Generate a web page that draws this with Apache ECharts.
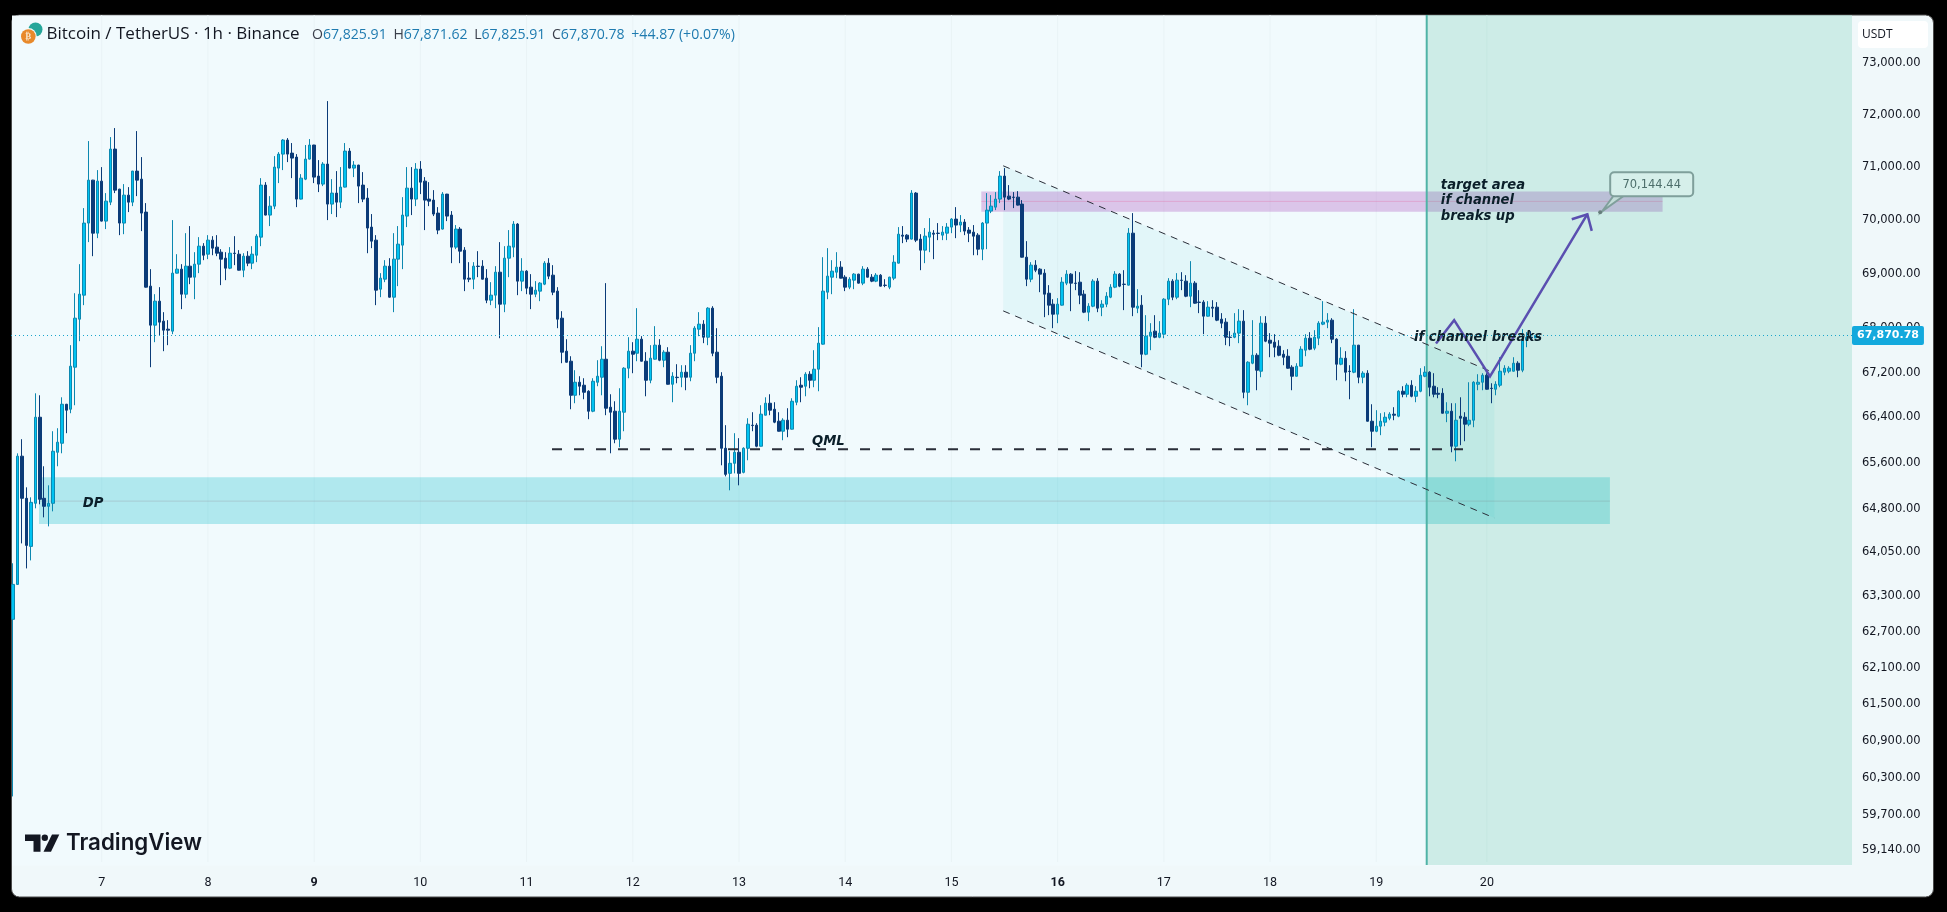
<!DOCTYPE html>
<html>
<head>
<meta charset="utf-8">
<title>BTCUSDT 1h</title>
<style>
  html, body { margin: 0; padding: 0; background: #000; }
  #chart { width: 1947px; height: 912px; }
</style>
<script src="https://cdn.jsdelivr.net/npm/echarts@6/dist/echarts.min.js"></script>
</head>
<body>
<div id="chart"></div>
<script>
// hourly candles
const opens = [
  62910,63500,65715,64979,64149,64892,66403,64979,64840,64892,
  65784,65943,66634,66545,67297,68167,68606,69941,70749,69753,
  70730,69978,70334,71339,70579,69941,70466,70334,70920,70768,
  70147,68772,68058,68496,68131,67985,67949,69011,69085,68624,
  69140,68937,69177,69511,69362,69623,69493,69399,69288,69103,
  69380,69362,69066,69325,69196,69343,69679,70655,70091,70259,
  70977,71243,71511,71262,71186,70391,70768,71148,71416,70825,
  70674,71053,70297,70504,70334,70617,71300,70977,71034,70655,
  70410,69866,69623,68716,68900,69140,68569,69270,69530,70072,
  70598,70391,70958,70730,70391,70372,70128,69829,70485,70091,
  69493,69829,69437,68919,68900,69140,69140,68919,68514,68606,
  69029,68441,69288,69493,69922,68864,69048,68753,68624,68680,
  68808,69196,68974,68680,68185,67586,67405,66794,67027,66974,
  66866,66510,67027,67117,67441,66581,66510,66014,66492,67279,
  67586,67549,67803,67405,67063,67441,67695,67423,67568,66991,
  67117,67117,67207,67117,67549,67985,68076,67839,68368,67568,
  67135,65854,65414,65590,65784,65431,65854,66262,66262,65890,
  66439,66652,66545,66332,66155,66350,66191,66670,66974,66956,
  67171,67063,67261,67713,68661,68937,69029,69122,68937,68753,
  68882,68993,68827,69085,68937,68864,68974,68790,68753,68919,
  69196,69716,69716,69642,70504,69642,69437,69679,69753,69753,
  69716,69753,69866,70016,69904,69960,69810,69772,69716,69455,
  69941,70166,70240,70391,70825,70447,70428,70428,70297,69306,
  68900,69159,69085,69011,68642,68441,68258,68423,68827,68993,
  68827,68845,68624,68295,68404,68864,68386,68441,68569,68753,
  68993,68808,68790,69753,68368,68423,67531,67858,67949,67839,
  67894,68532,68864,68569,68882,68864,68587,68827,68478,68478,
  68222,68386,68386,68167,68113,67839,67839,67913,68131,66848,
  67369,67513,67225,68094,67785,67749,67676,67531,67495,67297,
  67135,67315,67604,67821,67640,67821,68076,68113,68149,67803,
  67351,67459,67225,67207,67695,67117,67189,66332,66155,66244,
  66315,66385,66457,66421,66866,66812,66974,66776,66866,67135,
  67207,66956,66830,66830,66474,66510,65890,66421,66403,66279,
  66350,66991,67027,67153,66920,66902,66974,67207,67225,67225,
  67369,67243,67785,67839,67825.91
];
const closes = [
  63500,65715,64979,64166,64909,66403,64962,64840,64892,65802,
  65961,66634,66528,67315,68185,68624,69941,70749,69753,70730,
  69978,70353,71339,70560,69941,70466,70334,70920,70749,70128,
  68753,68058,68496,68113,67967,67967,69011,69085,68624,69140,
  68937,69177,69511,69343,69623,69474,69380,69270,69103,69380,
  69375,69066,69325,69196,69362,69697,70655,70091,70259,70996,
  71243,71511,71243,71167,70391,70787,71148,71416,70806,70674,
  71053,70297,70504,70334,70617,71300,70977,71034,70636,70391,
  69848,69604,68698,68919,69140,68569,69270,69548,70091,70598,
  70391,70958,70711,70372,70353,70110,69810,70485,70072,69493,
  69829,69418,68900,68900,69140,69135,68900,68514,68606,69029,
  68441,69288,69511,69922,68864,69048,68735,68624,68698,68827,
  69196,68956,68661,68167,67568,67387,66794,67027,66956,66848,
  66510,67045,67135,67441,66563,66492,66014,66510,67279,67586,
  67531,67803,67405,67063,67459,67695,67423,67568,66991,67135,
  67110,67207,67117,67549,68003,68076,67839,68368,67549,67117,
  65854,65396,65590,65784,65414,65854,66279,66255,65890,66457,
  66652,66528,66315,66155,66350,66191,66687,66956,66938,67171,
  67063,67261,67731,68680,68956,69048,69122,68919,68753,68900,
  68993,68827,69085,68937,68864,68974,68772,68785,68937,69214,
  69734,69697,69642,70504,69623,69437,69697,69772,69734,69748,
  69772,69866,70016,69904,69960,69791,69753,69697,69455,69941,
  70184,70259,70391,70825,70428,70391,70423,70278,69306,68900,
  69159,69066,68993,68624,68423,68258,68441,68845,68993,68827,
  68822,68606,68295,68404,68864,68368,68441,68587,68753,68993,
  68772,68803,69753,68386,68404,67531,67858,67931,67839,67913,
  68532,68864,68569,68882,68877,68587,68827,68459,68473,68222,
  68386,68368,68149,68094,67839,67835,67913,68131,66848,67387,
  67513,67243,68094,67767,67731,67658,67513,67477,67279,67135,
  67315,67622,67821,67622,67839,68094,68113,68149,67803,67351,
  67459,67207,67220,67695,67117,67189,66332,66155,66244,66332,
  66403,66457,66439,66866,66812,66974,66776,66866,67153,67207,
  66938,66812,66812,66474,66510,65890,66350,66385,66279,66350,
  67027,67027,67153,66902,66915,66991,67225,67279,67279,67369,
  67243,67785,67839,67826,67870.78
];
const lows = [
  60000,63490,64200,63772,63909,64805,64875,64649,64493,64753,
  65538,65766,66120,66474,66616,67767,68423,69586,69325,69660,
  69970,69829,70278,70504,69716,69734,70147,70259,70447,69791,
  68745,67297,67749,67876,67586,67695,67894,69005,68350,68551,
  68808,68532,69011,69251,69270,69343,69325,68790,68882,69085,
  69159,69060,68937,69140,69085,69214,69511,70085,69885,70203,
  70693,70939,71091,70787,70240,70385,70749,71140,70693,70523,
  70636,69997,70110,70053,70222,70610,70970,70806,70316,70334,
  69380,69474,68423,68569,68845,68560,68295,68772,69085,69866,
  70091,70259,70485,69810,70259,70072,69734,69820,69978,69196,
  69455,69196,68680,68845,68716,68937,68895,68459,68423,68368,
  67821,68295,68937,69306,68606,68680,68624,68350,68569,68496,
  68790,68900,68606,68003,67369,67380,66545,66652,66794,66723,
  66368,66492,66956,66794,66439,65766,65943,65872,66155,67099,
  67189,67405,67400,66776,67009,67435,67405,67297,66985,66670,
  67009,66938,66884,67045,67405,67858,67731,67695,67495,67009,
  65555,65361,65118,65414,65205,65414,65643,66155,65872,65885,
  66435,66439,66297,66150,65996,66049,66185,66616,66670,66776,
  66920,66938,66866,67705,68532,68624,68919,68915,68680,68716,
  68716,68820,68790,68930,68845,68845,68765,68753,68716,68882,
  69190,69567,69586,69635,69586,69066,69196,69399,69270,69623,
  69623,69623,69753,69660,69772,69716,69586,69343,69343,69251,
  69455,70128,70184,70316,70184,70372,70222,70270,69300,68772,
  68845,69029,68661,68204,68240,68003,68094,68415,68790,68313,
  68698,68441,68277,68131,68386,68295,68222,68386,68551,68735,
  68753,68332,68785,68222,68277,67297,67513,67604,67821,67821,
  67821,68423,68514,68532,68698,68569,68386,68450,68277,67894,
  68215,68204,68131,68003,67695,67676,67821,67731,66741,66616,
  67351,66884,67117,67749,67477,67477,67495,67333,67270,66884,
  67130,67310,67495,67604,67604,67695,68058,68003,67731,67063,
  67333,67045,66723,67189,67009,67009,66325,65872,66138,66085,
  66244,66350,66350,66403,66758,66758,66758,66670,66848,67117,
  66776,66758,66741,66470,66315,65784,65625,65908,65978,66244,
  66226,66884,66884,66895,66652,66794,66938,67153,67189,67220,
  67117,67207,67658,67785,67825.91
];
const highs = [
  63860,65765,66014,65170,64996,66829,66794,65538,65205,66155,
  66208,66758,66640,67695,68642,69177,70222,71492,70755,70939,
  70996,70504,71568,71741,70585,70674,70617,70925,71683,71186,
  70316,69085,68624,68753,68295,68149,69997,69362,69177,69753,
  69885,69399,69679,69567,69716,69697,69716,69455,69399,69493,
  69697,69437,69380,69418,69511,69734,70787,70711,70447,71205,
  71281,71530,71549,71454,71243,70863,71416,71530,71420,71129,
  71091,72260,70768,70920,70996,71454,71358,71110,71040,70901,
  70598,70110,69716,69011,69251,69288,69753,69885,70428,70996,
  70996,71072,71110,70806,70711,70560,70240,70523,70490,70166,
  69904,69866,69493,69214,69214,69418,69251,69085,68845,69140,
  69586,69511,69810,69978,69941,69288,69066,68993,68864,68845,
  69233,69288,69159,68753,68313,67803,67495,67243,67135,67099,
  66884,67099,67423,67676,68827,66812,66687,66920,67297,67839,
  67749,68368,67858,67568,67695,68040,67803,67604,67658,67207,
  67351,67333,67333,67695,68040,68295,68149,68386,68404,68003,
  67207,66262,65802,66120,66032,65872,66385,66492,66297,66616,
  66758,66812,66670,66492,66385,66563,66741,67063,67117,67207,
  67225,67604,68022,69306,69474,69251,69399,69233,68974,68937,
  69011,69000,69140,69122,68993,69011,68993,68900,68945,69343,
  69866,69885,69734,70560,70523,69734,69848,70034,69810,69941,
  69885,69941,70034,70240,70091,70016,69866,69904,69753,69960,
  70504,70466,70523,70920,70977,70655,70523,70541,70372,69604,
  69214,69251,69103,69085,68790,68532,68551,68937,69066,69011,
  69048,69029,68698,68459,68900,68919,68514,68661,68808,69048,
  69011,69066,69848,70128,68716,68606,68240,68094,68240,68131,
  68551,68919,68900,69011,69029,68974,69233,68864,68698,68514,
  68496,68514,68478,68277,68185,67949,68277,68350,68332,67405,
  68149,67549,68222,68222,67913,67894,67785,67604,67622,67333,
  67369,67676,67894,67931,67967,68131,68496,68277,68185,67821,
  67658,67586,67333,68350,67700,67225,67243,66634,66528,66474,
  66492,66492,66581,66884,66956,67009,67063,66956,67279,67315,
  67225,67189,66938,66920,66670,66652,66652,66758,66492,67027,
  67045,67171,67189,67189,67009,67045,67477,67333,67315,67477,
  67405,67985,67931,67949,67871.62
];

// axis ticks
const priceTicks = [73000,72000,71000,70000,69000,68000,67200,66400,65600,64800,64050,63300,62700,62100,61500,60900,60300,59700,59140];
const dayLabels = ['7','8','9','10','11','12','13','14','15','16','17','18','19','20'];
const dayBars = [20,44,68,92,116,140,164,188,212,236,260,284,308,333];
const boldDays = ['9','16'];
const barCount = 416;
const priceMin = 58910;
const priceMax = 73943;
const lastClose = 67870.78;

// legend line on top of the chart
const headerTitle = 'Bitcoin / TetherUS \u00b7 1h \u00b7 Binance';
const headerKeys = ['O','H','L','C'];
const headerValues = ['67,825.91','67,871.62','67,825.91','67,870.78'];
const headerChange = '+44.87 (+0.07%)';

// drawings, as [bar, price] anchors. bars are fractional, the hidden value axis reads them
const forecastFromBar = 319.4;
const dpZone = [5.83, 360.8, 65346, 64534];
const dpMidPrice = 64930;
const targetZone = [218.75, 372.7, 70536, 70152];
const targetMidPrice = 70348;
const channelTop = [[223.7, 71021], [334.7, 67194]];
const channelBottom = [[223.7, 68318], [334.7, 64638]];
const qmlLine = [[121.75, 65836], [327.6, 65836]];
const forecastPath = [[321.5, 67724], [325.6, 68149], [333.7, 67132], [355.7, 70107]];
const calloutPoint = [358.6, 70144.44];
const calloutText = '70,144.44';
const notes = [
  { text: 'DP', at: [15.7, 64910] },
  { text: 'QML', at: [180.5, 65996] },
  { text: 'if channel breaks', at: [316.5, 67845] },
  { text: 'target area', at: [322.6, 70674] },
  { text: 'if channel', at: [322.6, 70374] },
  { text: 'breaks up', at: [322.6, 70082] }
];

const upColor = '#00c3f2';
const upBorder = '#0d88b0';
const downColor = '#0b3b78';
const lineDark = '#2a2e39';
const noteFont = 'italic bold 13.2px "DejaVu Sans"';

const candles = [];
for (let i = 0; i < opens.length; i++) {
  candles.push([opens[i], closes[i], lows[i], highs[i]]);
}
const categories = [];
for (let i = 0; i < barCount; i++) {
  categories.push(String(i));
}

function formatPrice(v) {
  return v.toLocaleString('en-US', { minimumFractionDigits: 2, maximumFractionDigits: 2 });
}

// shapes under the candles: day lines and the coloured zones
function renderBelow(params, api) {
  const kids = [];
  const top = api.coord([0, priceMax])[1];
  const bottom = api.coord([0, priceMin])[1];
  dayBars.forEach(function (bar) {
    const x = api.coord([bar, priceMax])[0];
    kids.push({ type: 'line', shape: { x1: x, y1: top, x2: x, y2: bottom - 3 }, style: { stroke: '#e9f3f6', lineWidth: 1 } });
  });
  const zone = function (z, fill) {
    const a = api.coord([z[0], z[2]]);
    const b = api.coord([z[1], z[3]]);
    kids.push({ type: 'rect', shape: { x: a[0], y: a[1], width: b[0] - a[0], height: b[1] - a[1] }, style: { fill: fill } });
  };
  // channel fill
  const poly = [channelTop[0], channelTop[1], channelBottom[1], channelBottom[0]].map(function (p) { return api.coord(p); });
  kids.push({ type: 'polygon', shape: { points: poly }, style: { fill: 'rgba(0,188,190,0.06)' } });
  zone(dpZone, 'rgba(0,183,201,0.27)');
  zone(targetZone, 'rgba(156,39,176,0.25)');
  const mid = function (z, price, color) {
    const a = api.coord([z[0], price]);
    const b = api.coord([z[1], price]);
    kids.push({ type: 'line', shape: { x1: a[0], y1: a[1], x2: b[0], y2: b[1] }, style: { stroke: color, lineWidth: 1 } });
  };
  mid(dpZone, dpMidPrice, 'rgba(150,150,160,0.35)');
  mid(targetZone, targetMidPrice, 'rgba(233,30,99,0.18)');
  // forecast side of the chart
  const left = api.coord([forecastFromBar, priceMax]);
  const right = api.coord([barCount - 0.5, priceMin]);
  kids.push({ type: 'rect', shape: { x: left[0], y: left[1], width: right[0] - left[0], height: right[1] - left[1] }, style: { fill: 'rgba(0,163,106,0.15)' } });
  kids.push({ type: 'line', shape: { x1: left[0], y1: left[1], x2: left[0], y2: right[1] }, style: { stroke: '#4fb3a7', lineWidth: 2 } });
  return { type: 'group', children: kids };
}

// shapes over the candles: dashed lines, arrow, callout and the notes
function renderAbove(params, api) {
  const kids = [];
  const dashed = function (pts, width, dash) {
    const a = api.coord(pts[0]);
    const b = api.coord(pts[1]);
    kids.push({ type: 'line', shape: { x1: a[0], y1: a[1], x2: b[0], y2: b[1] }, style: { stroke: lineDark, lineWidth: width, lineDash: dash } });
  };
  dashed(channelTop, 1, [7, 6]);
  dashed(channelBottom, 1, [7, 6]);
  dashed(qmlLine, 2, [10, 12]);

  const path = forecastPath.map(function (p) { return api.coord(p); });
  kids.push({ type: 'polyline', shape: { points: path }, style: { stroke: '#5a4fb0', lineWidth: 2.5, fill: 'none' } });
  const tip = path[path.length - 1];
  kids.push({ type: 'polyline', shape: { points: [[tip[0] - 15.6, tip[1] + 5], tip, [tip[0] + 4.4, tip[1] + 16.7]] }, style: { stroke: '#5a4fb0', lineWidth: 2.5, fill: 'none' } });

  const dot = api.coord(calloutPoint);
  const box = { x: dot[0] + 10, y: dot[1] - 40, width: 83, height: 24 };
  kids.push({ type: 'polyline', shape: { points: [[box.x + 13, box.y + box.height], [dot[0] + 2, dot[1] - 1], [box.x + 3, box.y + box.height]] }, style: { fill: '#c2dcd8', stroke: '#7f9f9b', lineWidth: 2 } });
  kids.push({ type: 'rect', shape: { x: box.x, y: box.y, width: box.width, height: box.height, r: 4 }, style: { fill: '#d6efea', stroke: '#7f9f9b', lineWidth: 2 } });
  kids.push({ type: 'circle', shape: { cx: dot[0], cy: dot[1], r: 2 }, style: { fill: '#667f7c' } });
  kids.push({ type: 'text', style: { text: calloutText, x: box.x + box.width / 2, y: box.y + box.height / 2 + 1, align: 'center', verticalAlign: 'middle', font: '11.5px "DejaVu Sans"', fill: '#4d6e6b' } });

  notes.forEach(function (n) {
    const p = api.coord(n.at);
    kids.push({ type: 'text', style: { text: n.text, x: p[0], y: p[1] + 1, align: 'left', verticalAlign: 'middle', font: noteFont, fill: '#0b1f2a' } });
  });
  return { type: 'group', children: kids };
}

const chart = echarts.init(document.getElementById('chart'), null, { renderer: 'canvas' });

let headerRich = '';
headerKeys.forEach(function (k, i) {
  headerRich += '{k|' + k + '}{v|' + headerValues[i] + '}  ';
});
headerRich += '{v|' + headerChange + '}';

const option = {
  animation: false,
  backgroundColor: 'transparent',
  tooltip: { show: false },
  graphic: [
    // panel, black page shows around it
    { type: 'rect', z: -10, silent: true, shape: { x: 11.5, y: 15, width: 1922, height: 882, r: 8 }, style: { fill: '#f0f8fa', stroke: '#4a4a4a', lineWidth: 1 } },
    { type: 'rect', z: -9, silent: true, shape: { x: 12, y: 15.5, width: 1840, height: 850 }, style: { fill: '#f1fafd' } },
    // coin icon
    { type: 'circle', z: 20, silent: true, shape: { cx: 35.5, cy: 29.5, r: 7 }, style: { fill: '#26a69a' } },
    { type: 'circle', z: 21, silent: true, shape: { cx: 28.3, cy: 36.5, r: 8.5 }, style: { fill: '#f1fafd' } },
    { type: 'circle', z: 22, silent: true, shape: { cx: 28.3, cy: 36.5, r: 7.3 }, style: { fill: '#e8892b' } },
    { type: 'text', z: 23, silent: true, style: { text: '\u20bf', x: 28.3, y: 36.5, align: 'center', verticalAlign: 'middle', font: 'bold 9px "DejaVu Sans"', fill: '#f7e3c8' } },
    // legend line
    { type: 'text', z: 20, silent: true, style: { text: headerTitle, x: 46.5, y: 34.5, verticalAlign: 'middle', font: '17px "Open Sans"', fill: '#131722' } },
    { type: 'text', z: 20, silent: true, style: {
        text: headerRich, x: 312, y: 34.5, verticalAlign: 'middle',
        rich: {
          k: { font: '14.1px "Open Sans"', fill: '#3a3f4b' },
          v: { font: '14.1px "Open Sans"', fill: '#1f7bb0' }
        }
      }
    },
    // usdt box
    { type: 'rect', z: 20, silent: true, shape: { x: 1858, y: 21, width: 70, height: 27, r: 4 }, style: { fill: '#ffffff' } },
    { type: 'text', z: 21, silent: true, style: { text: 'USDT', x: 1862, y: 34.5, verticalAlign: 'middle', font: '12px "Open Sans"', fill: '#131722' } },
    // tradingview mark
    { type: 'polygon', z: 20, silent: true, shape: { points: [[25, 834.5], [40.5, 834.5], [40.5, 851.7], [33.5, 851.7], [33.5, 841], [25, 841]] }, style: { fill: '#131722' } },
    { type: 'circle', z: 20, silent: true, shape: { cx: 44.8, cy: 837.8, r: 3.2 }, style: { fill: '#131722' } },
    { type: 'polygon', z: 20, silent: true, shape: { points: [[52, 834.5], [59.3, 834.5], [51, 851.7], [43.5, 851.7]] }, style: { fill: '#131722' } },
    { type: 'text', z: 20, silent: true, style: { text: 'TradingView', x: 66, y: 843, verticalAlign: 'middle', font: '600 22.3px Inter', fill: '#131722' } }
  ],
  grid: { left: 11, right: 95, top: 15, bottom: 47, containLabel: false },
  xAxis: [
    {
      type: 'category',
      data: categories,
      boundaryGap: true,
      axisLine: { show: false },
      axisTick: { show: false },
      splitLine: { show: false },
      axisLabel: {
        margin: 11,
        interval: function (index) { return dayBars.indexOf(index) >= 0; },
        formatter: function (value, index) {
          const label = dayLabels[dayBars.indexOf(index)];
          if (label === undefined) return '';
          return boldDays.indexOf(label) >= 0 ? '{b|' + label + '}' : label;
        },
        color: '#131722',
        fontFamily: 'Roboto',
        fontSize: 12.5,
        rich: { b: { fontWeight: 'bold', fontFamily: 'Roboto', fontSize: 12.5, color: '#131722' } }
      }
    },
    { type: 'value', min: -0.5, max: barCount - 0.5, show: false, splitLine: { show: false } }
  ],
  yAxis: {
    type: 'log',
    position: 'right',
    min: priceMin,
    max: priceMax,
    axisLine: { show: false },
    axisTick: { show: false },
    splitLine: { show: false },
    minorTick: { show: false },
    axisLabel: {
      customValues: priceTicks,
      margin: 10,
      padding: [2, 0, 0, 0],
      align: 'left',
      color: '#131722',
      fontFamily: 'DejaVu Sans',
      fontSize: 11.5,
      formatter: function (v) { return formatPrice(v); }
    }
  },
  series: [
    {
      type: 'custom',
      name: 'below',
      xAxisIndex: 1,
      z: 1,
      silent: true,
      clip: true,
      renderItem: renderBelow,
      data: [[0, lastClose]]
    },
    {
      type: 'candlestick',
      name: 'BTCUSDT',
      xAxisIndex: 0,
      z: 2,
      barWidth: 3,
      data: candles,
      itemStyle: {
        color: upColor,
        color0: downColor,
        borderColor: upBorder,
        borderColor0: downColor,
        borderWidth: 1
      },
      markLine: {
        silent: true,
        symbol: 'none',
        z: 5,
        data: [{ yAxis: lastClose }],
        lineStyle: { color: '#1aa5cc', type: [1, 3], width: 1 },
        label: {
          position: 'end',
          distance: 0,
          formatter: function () { return formatPrice(lastClose); },
          color: '#ffffff',
          backgroundColor: '#13a9dd',
          fontFamily: 'DejaVu Sans',
          fontWeight: 'bold',
          fontSize: 11,
          padding: [4, 5, 4, 5],
          borderRadius: 2
        }
      }
    },
    {
      type: 'custom',
      name: 'above',
      xAxisIndex: 1,
      z: 4,
      silent: true,
      clip: false,
      renderItem: renderAbove,
      data: [[0, lastClose]]
    }
  ]
};
chart.setOption(option);
</script>
</body>
</html>
